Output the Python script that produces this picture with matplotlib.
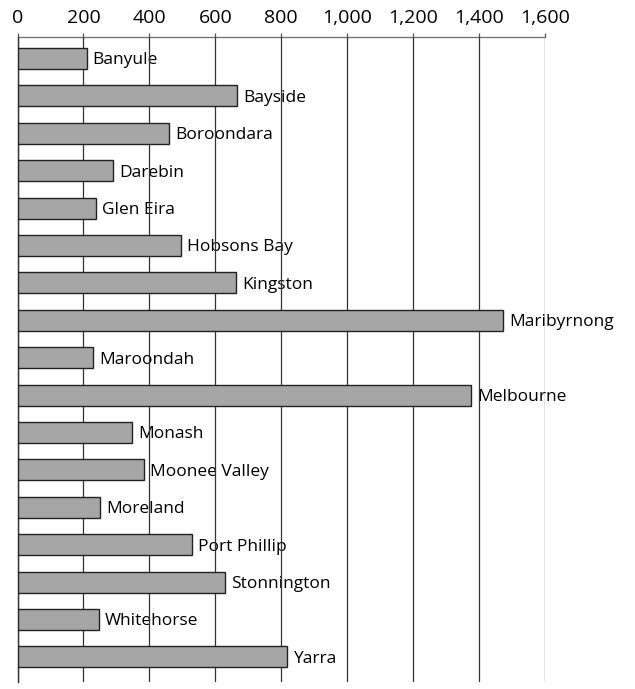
import matplotlib
matplotlib.use("Agg")
import matplotlib.pyplot as plt
from matplotlib.ticker import FuncFormatter

# councils and values
councils = ['Banyule', 'Bayside', 'Boroondara', 'Darebin', 'Glen Eira', 'Hobsons Bay',
            'Kingston', 'Maribyrnong', 'Maroondah', 'Melbourne', 'Monash', 'Moonee Valley',
            'Moreland', 'Port Phillip', 'Stonnington', 'Whitehorse', 'Yarra']
values = [210, 667, 459, 290, 238, 495, 663, 1472, 229, 1375, 347, 384, 250, 529, 630, 248, 818]
xticks = [0, 200, 400, 600, 800, 1000, 1200, 1400, 1600]

plt.rcParams['font.family'] = ['Open Sans', 'DejaVu Sans']

fig = plt.figure(figsize=(6.35, 6.89), dpi=100)
ax = fig.add_axes([0.0276, 0.0102, 0.8307, 0.9361])

ypos = list(range(len(councils)))
ax.barh(ypos, values, height=0.56, color='#a6a6a6', edgecolor='#222222', linewidth=1.0, zorder=3)
# labels sit under the gridlines, as in the original
for y, v, name in zip(ypos, values, councils):
    ax.text(v + 18, y + 0.05, name, va='center', ha='left', fontsize=12.5, zorder=0.5)

ax.set_xlim(0, 1600)
ax.set_ylim(len(councils) - 0.33, -0.575)
ax.set_xticks(xticks)
ax.xaxis.set_major_formatter(FuncFormatter(lambda x, p: '{:,.0f}'.format(x)))
ax.xaxis.tick_top()
ax.tick_params(axis='x', length=3, width=0.9, color='#555555', pad=4, labelsize=14)
ax.set_yticks([])
ax.set_axisbelow(False)
ax.grid(axis='x', color='#333333', linewidth=0.9, zorder=1)
for s in ['right', 'bottom']:
    ax.spines[s].set_visible(False)
ax.spines['top'].set_color('#777777')
ax.spines['top'].set_linewidth(1.0)
ax.spines['left'].set_color('#222222')
ax.spines['left'].set_linewidth(1.0)

plt.savefig('out.png', dpi=100)
